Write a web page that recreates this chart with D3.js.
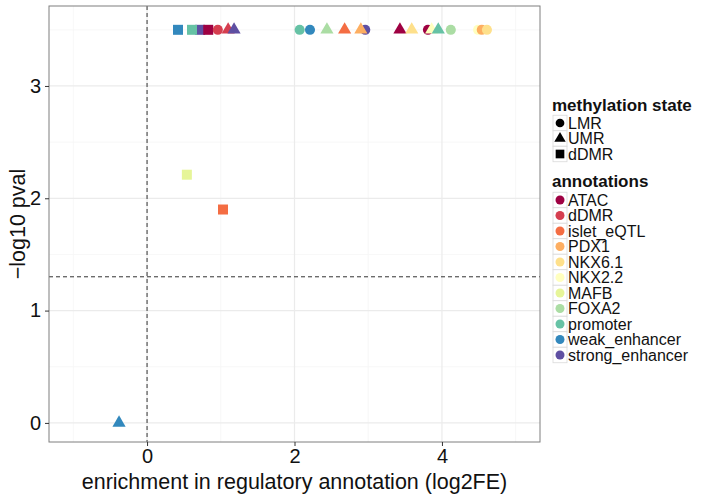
<!DOCTYPE html>
<html>
<head>
<meta charset="utf-8">
<script src="https://cdn.jsdelivr.net/npm/d3@7/dist/d3.min.js"></script>
<style>
  body { margin: 0; background: #fff; }
  svg { font-family: "Liberation Sans", Arial, Helvetica, sans-serif; }
</style>
</head>
<body>
<svg id="chart" width="713" height="495"></svg>
<script>
// Annotation categories and their colours (Spectral palette)
const annotations = ["ATAC", "dDMR", "islet_eQTL", "PDX1", "NKX6.1", "NKX2.2",
  "MAFB", "FOXA2", "promoter", "weak_enhancer", "strong_enhancer"];
const annotationColors = ["#9E0142", "#D53E4F", "#F46D43", "#FDAE61", "#FEE08B",
  "#FFFFBF", "#E6F598", "#ABDDA4", "#66C2A5", "#3288BD", "#5E4FA2"];

const states = ["LMR", "UMR", "dDMR"];

// Enrichment results: one point per (state, annotation), in draw order
const pointState = ["dDMR", "dDMR", "dDMR", "dDMR", "LMR", "UMR", "UMR",
  "LMR", "LMR", "UMR", "UMR", "LMR", "UMR", "UMR", "UMR", "LMR", "UMR", "UMR",
  "LMR", "LMR", "LMR", "LMR", "dDMR", "dDMR", "UMR"];
const pointAnnot = ["strong_enhancer", "weak_enhancer", "promoter", "ATAC", "dDMR", "dDMR", "strong_enhancer",
  "promoter", "weak_enhancer", "FOXA2", "islet_eQTL", "strong_enhancer", "PDX1", "ATAC", "NKX6.1", "ATAC", "NKX2.2", "promoter",
  "FOXA2", "NKX2.2", "PDX1", "NKX6.1", "MAFB", "islet_eQTL", "weak_enhancer"];
const pointLog2FE = [0.72, 0.42, 0.61, 0.83, 0.96, 1.10, 1.18,
  2.07, 2.21, 2.44, 2.68, 2.96, 2.90, 3.43, 3.59, 3.81, 3.86, 3.95,
  4.12, 4.49, 4.54, 4.61, 0.54, 1.03, -0.38];
const pointNegLogP = [3.5, 3.5, 3.5, 3.5, 3.5, 3.5, 3.5,
  3.5, 3.5, 3.5, 3.5, 3.5, 3.5, 3.5, 3.5, 3.5, 3.5, 3.5,
  3.5, 3.5, 3.5, 3.5, 2.21, 1.9, 0];

const xTicks = [0, 2, 4];
const yTicks = [0, 1, 2, 3];
const pThreshold = 0.05;

const data = pointState.map((s, i) => ({
  state: s, annot: pointAnnot[i], x: pointLog2FE[i], y: pointNegLogP[i]
}));

const svg = d3.select("#chart");
const panel = { left: 49, right: 540, top: 6, bottom: 442 };

const x = d3.scaleLinear().domain([-1.33, 5.33]).range([panel.left, panel.right]);
const y = d3.scaleLinear().domain([-0.17, 3.712]).range([panel.bottom, panel.top]);
const color = d3.scaleOrdinal().domain(annotations).range(annotationColors);
const shape = d3.scaleOrdinal().domain(states).range([d3.symbolCircle, d3.symbolTriangle, d3.symbolSquare]);
const shapeSize = d3.scaleOrdinal().domain(states).range([80, 75, 100]);

// Grid
const g = svg.append("g");
const minorX = [-1, 1, 3, 5], minorY = [0.5, 1.5, 2.5, 3.5];
g.selectAll(".mx").data(minorX).join("line")
  .attr("x1", d => x(d)).attr("x2", d => x(d)).attr("y1", panel.top).attr("y2", panel.bottom)
  .attr("stroke", "#f5f5f5").attr("stroke-width", 0.8);
g.selectAll(".my").data(minorY).join("line")
  .attr("y1", d => y(d)).attr("y2", d => y(d)).attr("x1", panel.left).attr("x2", panel.right)
  .attr("stroke", "#f5f5f5").attr("stroke-width", 0.8);
g.selectAll(".Mx").data(xTicks).join("line")
  .attr("x1", d => x(d)).attr("x2", d => x(d)).attr("y1", panel.top).attr("y2", panel.bottom)
  .attr("stroke", "#ebebeb").attr("stroke-width", 1.2);
g.selectAll(".My").data(yTicks).join("line")
  .attr("y1", d => y(d)).attr("y2", d => y(d)).attr("x1", panel.left).attr("x2", panel.right)
  .attr("stroke", "#ebebeb").attr("stroke-width", 1.2);

// Reference lines: log2FE = 0 and p = 0.05
g.append("line").attr("x1", x(0)).attr("x2", x(0)).attr("y1", panel.top).attr("y2", panel.bottom)
  .attr("stroke", "#333").attr("stroke-width", 1).attr("stroke-dasharray", "4,3");
g.append("line").attr("x1", panel.left).attr("x2", panel.right)
  .attr("y1", y(-Math.log10(pThreshold))).attr("y2", y(-Math.log10(pThreshold)))
  .attr("stroke", "#333").attr("stroke-width", 1).attr("stroke-dasharray", "4,3");

// Points
g.selectAll(".pt").data(data).join("path")
  .attr("transform", d => `translate(${x(d.x)},${y(d.y)})`)
  .attr("d", d => d3.symbol().type(shape(d.state)).size(shapeSize(d.state))())
  .attr("fill", d => color(d.annot));

// Panel border
svg.append("rect").attr("x", panel.left).attr("y", panel.top)
  .attr("width", panel.right - panel.left).attr("height", panel.bottom - panel.top)
  .attr("fill", "none").attr("stroke", "#7f7f7f").attr("stroke-width", 1);

// Axes
const xAxis = svg.append("g").attr("transform", `translate(0,${panel.bottom})`)
  .call(d3.axisBottom(x).tickValues(xTicks).tickFormat(d3.format("d")).tickSize(4).tickPadding(3));
const yAxis = svg.append("g").attr("transform", `translate(${panel.left},0)`)
  .call(d3.axisLeft(y).tickValues(yTicks).tickFormat(d3.format("d")).tickSize(4).tickPadding(4));
[xAxis, yAxis].forEach(a => {
  a.select(".domain").remove();
  a.selectAll(".tick line").attr("stroke", "#333");
  a.selectAll(".tick text").attr("fill", "#111").style("font-size", "20px")
    .style("font-family", "'Liberation Sans', Arial, sans-serif");
});

svg.append("text").attr("x", (panel.left + panel.right) / 2).attr("y", 489)
  .attr("text-anchor", "middle").style("font-size", "21.5px").attr("fill", "#111")
  .text("enrichment in regulatory annotation (log2FE)");
svg.append("text").attr("transform", `translate(25,${(panel.top + panel.bottom) / 2}) rotate(-90)`)
  .attr("text-anchor", "middle").style("font-size", "21.5px").attr("fill", "#111")
  .text("\u2212log10 pval");

// Legends
const lg = svg.append("g");
const keyX = 553, keyW = 14, step = 15.5;
function legend(title, titleY, items, firstY, draw) {
  lg.append("text").attr("x", keyX - 1).attr("y", titleY)
    .style("font-size", "17px").style("font-weight", "bold").attr("fill", "#111").text(title);
  items.forEach((it, i) => {
    const cy = firstY + i * step;
    lg.append("rect").attr("x", keyX).attr("y", cy - step / 2).attr("width", keyW).attr("height", step)
      .attr("fill", "#fff").attr("stroke", "#d9d9d9").attr("stroke-width", 0.8);
    draw(it, keyX + keyW / 2, cy);
    lg.append("text").attr("x", keyX + keyW + 1).attr("y", cy + 5.5)
      .style("font-size", "16px").attr("fill", "#111").text(it);
  });
}
legend("methylation state", 111, states, 123, (s, cx, cy) => {
  lg.append("path").attr("transform", `translate(${cx},${cy})`)
    .attr("d", d3.symbol().type(shape(s)).size(shapeSize(s) * 0.75)()).attr("fill", "#000");
});
legend("annotations", 187, annotations, 200, (a, cx, cy) => {
  lg.append("circle").attr("cx", cx).attr("cy", cy).attr("r", 4.5).attr("fill", color(a));
});
</script>
</body>
</html>
